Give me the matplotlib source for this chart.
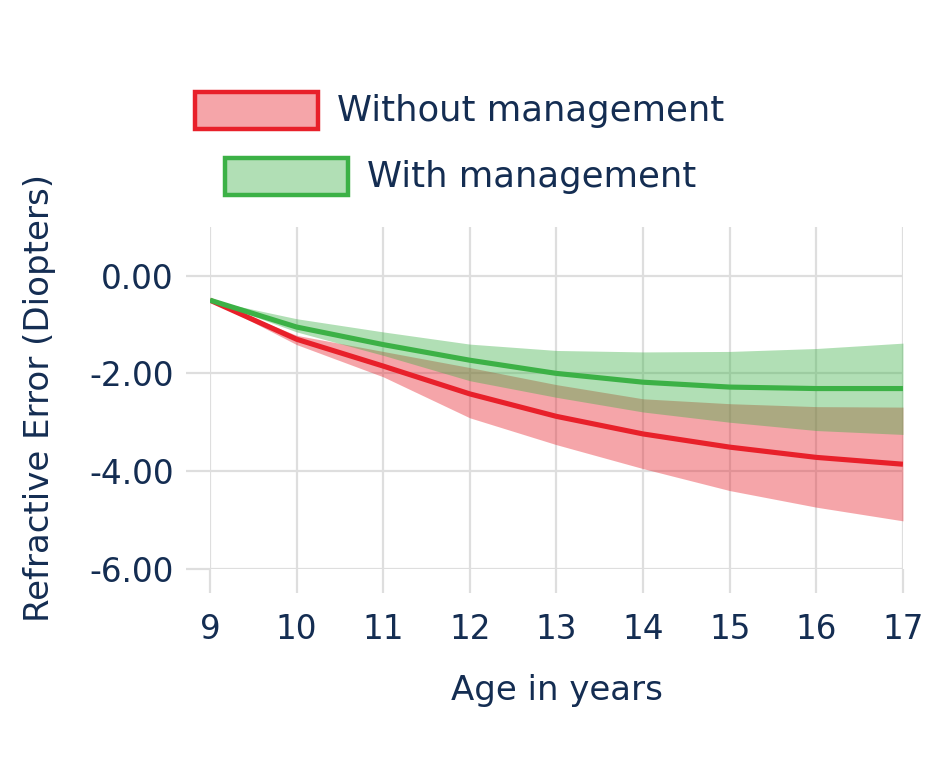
import matplotlib
matplotlib.use("Agg")
import matplotlib.pyplot as plt
from matplotlib.patches import Rectangle

ages = [9, 10, 11, 12, 13, 14, 15, 16, 17]

without_mean = [-0.50, -1.30, -1.85, -2.42, -2.88, -3.24, -3.51, -3.72, -3.86]
without_upper = [-0.50, -1.22, -1.55, -1.88, -2.23, -2.52, -2.62, -2.68, -2.69]
without_lower = [-0.50, -1.41, -2.07, -2.91, -3.46, -3.95, -4.40, -4.74, -5.02]

with_mean = [-0.50, -1.05, -1.41, -1.73, -2.00, -2.18, -2.28, -2.31, -2.31]
with_upper = [-0.50, -0.88, -1.15, -1.40, -1.53, -1.56, -1.55, -1.49, -1.38]
with_lower = [-0.50, -1.15, -1.63, -2.15, -2.49, -2.79, -3.00, -3.17, -3.25]

y_ticks = [0, -2, -4, -6]
labels = ["Without management", "With management"]

red = "#e8202a"
green = "#3cb146"
navy = "#142d52"
grid_c = "#dedede"

plt.rcParams["font.family"] = ["DejaVu Sans"]

fig = plt.figure(figsize=(9.48, 7.68), dpi=100)
ax = fig.add_axes([0.2215, 0.2595, 0.731, 0.445])

ax.fill_between(ages, without_lower, without_upper, color=red, alpha=0.4, lw=0)
ax.fill_between(ages, with_lower, with_upper, color=green, alpha=0.4, lw=0)
ax.plot(ages, without_mean, color=red, lw=3.7, solid_capstyle="butt")
ax.plot(ages, with_mean, color=green, lw=3.7, solid_capstyle="butt")

ax.set_xlim(9, 17)
ax.set_ylim(-6, 1)
ax.set_xticks(ages)
ax.set_yticks(y_ticks)
ax.set_yticklabels(["{:.2f}".format(v) if v != 0 else "0.00" for v in y_ticks])
ax.grid(True, color=grid_c, lw=1.6)
ax.set_axisbelow(True)
for s in ax.spines.values():
    s.set_visible(False)
ax.tick_params(axis="both", length=17, width=1.6, color=grid_c,
               labelcolor=navy, labelsize=23.5)
ax.tick_params(axis="y", pad=9)
ax.tick_params(axis="x", pad=15)

ax.set_xlabel("Age in years", color=navy, fontsize=24.5, labelpad=20)
ax.set_ylabel("Refractive Error (Diopters)", color=navy, fontsize=24.5, labelpad=24)

# legend drawn by hand, centred rows
entries = [(red, 195, 92, labels[0]), (green, 225, 158, labels[1])]
for col, x0, y0, txt in entries:
    fig.patches.append(Rectangle((x0 / 948, 1 - (y0 + 37) / 768), 123 / 948, 37 / 768,
                                 transform=fig.transFigure, facecolor=col, alpha=0.4,
                                 edgecolor="none"))
    fig.patches.append(Rectangle((x0 / 948, 1 - (y0 + 37) / 768), 123 / 948, 37 / 768,
                                 transform=fig.transFigure, facecolor="none",
                                 edgecolor=col, lw=3.2))
    fig.text((x0 + 142) / 948, 1 - (y0 + 19) / 768, txt, color=navy, fontsize=25.5,
             va="center", ha="left")

fig.savefig("out.png", dpi=100)
